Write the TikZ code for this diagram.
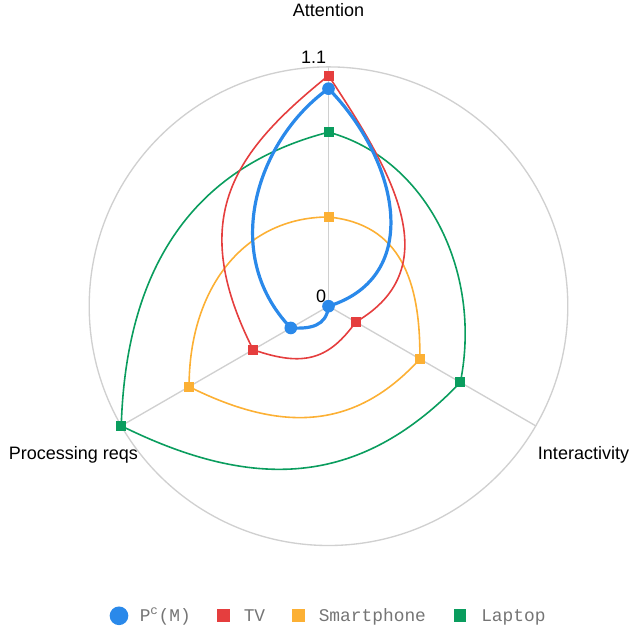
\documentclass[tikz,border=0pt]{standalone}
\usepackage{fontspec}
\setmainfont{Liberation Sans}
\newfontfamily\legendfont{Liberation Mono}
\usetikzlibrary{calc}

\definecolor{pcblue}{RGB}{42,137,234}
\definecolor{tvred}{RGB}{229,62,62}
\definecolor{spyellow}{RGB}{252,176,52}
\definecolor{ltgreen}{RGB}{10,157,94}
\definecolor{gridgray}{RGB}{208,208,208}
\definecolor{keygray}{RGB}{117,117,117}

\tikzset{
  gridline/.style={draw=gridgray, line width=1pt},
  series/.style={line width=1.2pt, line join=round},
  pcline/.style={draw=pcblue, line width=2.4pt, line join=round},
  sqmark/.style={rectangle, inner sep=0pt, minimum size=7.5pt},
  dotmark/.style={circle, inner sep=0pt, minimum size=9.5pt, fill=pcblue},
  axislabel/.style={font=\fontsize{13.5}{16}\selectfont, inner sep=0pt},
  keytext/.style={font=\legendfont\fontsize{13.4}{16}\selectfont, text=keygray, anchor=base west, inner sep=0pt}
}

\begin{document}
\begin{tikzpicture}[x=0.75pt, y=-0.75pt]
      \useasboundingbox (0,0) rectangle (637,636);

      \pgfmathsetmacro{\sc}{239.3/1.1}
      \coordinate (O) at (328.5,306.2);

      % grid: outer ring and the three spokes
      \draw[gridline] (O) circle[radius=239.3];
      \coordinate (axA) at ($(O)+(-90:239.3)$);
      \coordinate (axI) at ($(O)+(30:239.3)$);
      \coordinate (axP) at ($(O)+(150:239.3)$);
      \draw[gridline] (O) -- (axA);
      \draw[gridline] (O) -- (axI);
      \draw[gridline] (O) -- (axP);

      % data points (Attention, Interactivity, Processing reqs)
      \coordinate (ltA) at ($(O)+(-90:{0.80*\sc})$);
      \coordinate (ltI) at ($(O)+(30:{0.70*\sc})$);
      \coordinate (ltP) at ($(O)+(150:{1.10*\sc})$);
      \coordinate (spA) at ($(O)+(-90:{0.41*\sc})$);
      \coordinate (spI) at ($(O)+(30:{0.485*\sc})$);
      \coordinate (spP) at ($(O)+(150:{0.74*\sc})$);
      \coordinate (tvA) at ($(O)+(-90:{1.06*\sc})$);
      \coordinate (tvI) at ($(O)+(30:{0.145*\sc})$);
      \coordinate (tvP) at ($(O)+(150:{0.40*\sc})$);
      \coordinate (pcA) at ($(O)+(-90:{1.00*\sc})$);
      \coordinate (pcI) at (O);
      \coordinate (pcP) at ($(O)+(150:{0.20*\sc})$);

      % Laptop
      \draw[series, ltgreen] (ltA) .. controls (424.8,158.2) and (482.8,269.6) .. (ltI)
        .. controls (363.8,483.1) and (260.2,494.6) .. (ltP)
        .. controls (126.6,247.8) and (210.2,162.7) .. (ltA);

      % Smartphone
      \draw[series, spyellow] (spA) .. controls (400,224) and (420.5,280) .. (spI)
        .. controls (356,429.3) and (283,433.6) .. (spP)
        .. controls (189.1,286.7) and (245.5,217) .. (spA);

      % TV
      \draw[series, tvred] (tvA) .. controls (389,167.5) and (450.8,266.7) .. (tvI)
        .. controls (329.4,358.5) and (305.1,367.9) .. (tvP)
        .. controls (185.7,216.2) and (235.1,151) .. (tvA);

      % P^c(M)
      \draw[pcline] (pcA) .. controls (398.5,160.1) and (424,276.5) .. (pcI)
        .. controls (326.5,326.1) and (310.8,329) .. (pcP)
        .. controls (218.3,252.35) and (259.1,137.75) .. (pcA);

      % markers
      \node[sqmark, fill=ltgreen] (ltAm) at (ltA) {};
      \node[sqmark, fill=ltgreen] (ltIm) at (ltI) {};
      \node[sqmark, fill=ltgreen] (ltPm) at (ltP) {};
      \node[sqmark, fill=spyellow] (spAm) at (spA) {};
      \node[sqmark, fill=spyellow] (spIm) at (spI) {};
      \node[sqmark, fill=spyellow] (spPm) at (spP) {};
      \node[sqmark, fill=tvred] (tvAm) at (tvA) {};
      \node[sqmark, fill=tvred] (tvIm) at (tvI) {};
      \node[sqmark, fill=tvred] (tvPm) at (tvP) {};
      \node[dotmark] (pcAm) at (pcA) {};
      \node[dotmark] (pcIm) at (pcI) {};
      \node[dotmark] (pcPm) at (pcP) {};

      % axis and tick labels
      \node[axislabel, anchor=base] (attn) at (328.5,16.7) {Attention};
      \node[axislabel, anchor=base] (inter) at (583.5,459) {Interactivity};
      \node[axislabel, anchor=base] (procreq) at (73.5,459) {Processing reqs};
      \node[axislabel, anchor=base east] (tickmax) at (326.5,63.3) {1.1};
      \node[axislabel, anchor=base east] (tickzero) at (326.5,302.7) {0};

      % legend
      \node[dotmark, minimum size=14pt] (keypc) at (119,615.8) {};
      \node[keytext] (keypctext) at (139.5,621) {P\textsuperscript{c}(M)};
      \node[sqmark, minimum size=9.5pt, fill=tvred] (keytv) at (223.3,615.8) {};
      \node[keytext] (keytvtext) at (243.5,621) {TV};
      \node[sqmark, minimum size=9.5pt, fill=spyellow] (keysp) at (298.8,615.8) {};
      \node[keytext] (keysptext) at (318.5,621) {Smartphone};
      \node[sqmark, minimum size=9.5pt, fill=ltgreen] (keylt) at (460,615.8) {};
      \node[keytext] (keylttext) at (481,621) {Laptop};
\end{tikzpicture}
\end{document}
